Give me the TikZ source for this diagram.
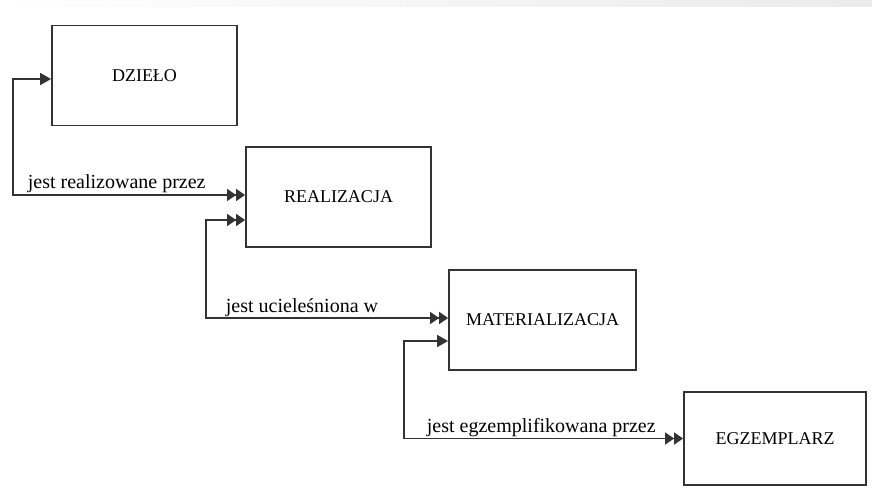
\documentclass[tikz,border=0pt]{standalone}
\usepackage{fontspec}
\setmainfont{Liberation Serif}
\usetikzlibrary{arrows.meta}
\begin{document}
\begin{tikzpicture}[x=1pt,y=-1pt,
  box/.style={draw=black!80,line width=1.8pt,minimum width=185pt,minimum height=100pt,
    inner sep=0pt,font=\fontsize{18}{20}\selectfont},
  link/.style={draw=black!80,line width=1.6pt},
  lbl/.style={inner sep=0pt,anchor=base west,font=\fontsize{20}{22}\selectfont},
  one/.tip={Triangle[length=11pt,width=12pt]},
  two/.tip={Triangle[length=9pt,width=12pt]Triangle[length=9pt,width=12pt]}]
\useasboundingbox (0,0) rectangle (872,500);
\shade[left color=white,right color=black!8] (0,0) rectangle (872,7);

\node[box] (dzielo) at (144.5,75.5) {DZIEŁO};
\node[box] (realizacja) at (338.5,197) {REALIZACJA};
\node[box,minimum width=187pt] (materializacja) at (542.5,320) {MATERIALIZACJA};
\node[box,minimum width=182pt,minimum height=93pt] (egzemplarz) at (775,438.5) {EGZEMPLARZ};

\draw[link,two-one] ([yshift=2pt]realizacja.west) -| ([xshift=-38pt,yshift=-3.5pt]dzielo.west)
  node[lbl,pos=0.5,xshift=14pt,yshift=7pt] {jest realizowane przez}
  -- ([yshift=-3.5pt]dzielo.west);
\draw[link,two-two] ([yshift=2pt]materializacja.west) -| ([xshift=-39pt,yshift=-23pt]realizacja.west)
  node[lbl,pos=0.5,xshift=19pt,yshift=6pt] {jest ucieleśniona w}
  -- ([yshift=-23pt]realizacja.west);
\draw[link,two-one] (egzemplarz.west) -| ([xshift=-44pt,yshift=-21pt]materializacja.west)
  node[lbl,pos=0.5,xshift=22pt,yshift=6pt] {jest egzemplifikowana przez}
  -- ([yshift=-21pt]materializacja.west);
\end{tikzpicture}
\end{document}
